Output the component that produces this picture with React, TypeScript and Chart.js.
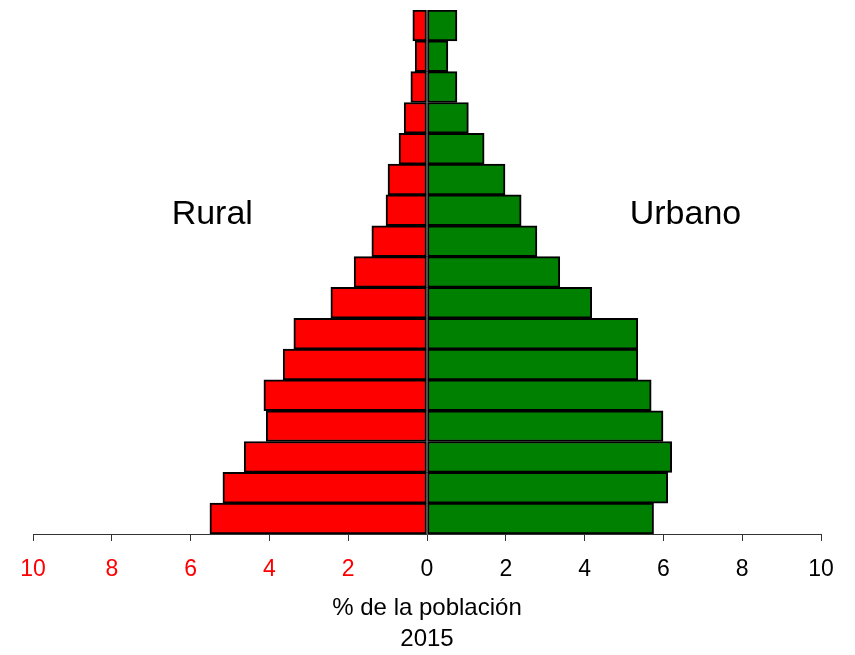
import React, { useEffect, useRef } from "react";
import { Chart, registerables } from "chart.js";

Chart.register(...registerables);

const ageGroups = [
  "80+", "75-79", "70-74", "65-69", "60-64", "55-59", "50-54", "45-49", "40-44",
  "35-39", "30-34", "25-29", "20-24", "15-19", "10-14", "5-9", "0-4",
];

const ruralValues = [
  0.36, 0.3, 0.41, 0.58, 0.71, 0.99, 1.04, 1.4, 1.85,
  2.44, 3.38, 3.65, 4.14, 4.08, 4.64, 5.18, 5.51,
];

const urbanValues = [
  0.76, 0.53, 0.76, 1.05, 1.45, 1.98, 2.39, 2.79, 3.37,
  4.18, 5.35, 5.35, 5.69, 5.99, 6.21, 6.11, 5.75,
];

const xTickValues = [-10, -8, -6, -4, -2, 0, 2, 4, 6, 8, 10];
const axisTitle = ["% de la población", "2015"];
const sideLabels = [
  { text: "Rural", x: -5.45, row: 6 },
  { text: "Urbano", x: 6.56, row: 6 },
];

const FONT = "'Liberation Sans', Arial, Helvetica, sans-serif";

const sideLabelPlugin = {
  id: "sideLabels",
  afterDatasetsDraw(chart: any) {
    const { ctx, scales } = chart;
    ctx.save();
    ctx.font = `34px ${FONT}`;
    ctx.fillStyle = "#000000";
    ctx.textAlign = "center";
    ctx.textBaseline = "middle";
    for (const l of sideLabels) {
      const x = scales.x.getPixelForValue(l.x);
      const y = scales.y.getPixelForValue(l.row) + 4;
      ctx.fillText(l.text, x, y);
    }
    ctx.restore();
  },
};

export default function App() {
  const canvasRef = useRef<HTMLCanvasElement | null>(null);

  useEffect(() => {
    if (!canvasRef.current) return;
    const chart = new Chart(canvasRef.current, {
      type: "bar",
      data: {
        labels: ageGroups,
        datasets: [
          {
            label: "Rural",
            data: ruralValues.map((v) => -v),
            backgroundColor: "#FF0000",
            borderColor: "#000000",
            borderWidth: 2,
            borderSkipped: false,
            categoryPercentage: 1,
            barPercentage: 1,
          },
          {
            label: "Urbano",
            data: urbanValues,
            backgroundColor: "#008000",
            borderColor: "#000000",
            borderWidth: 2,
            borderSkipped: false,
            categoryPercentage: 1,
            barPercentage: 1,
          },
        ],
      },
      options: {
        indexAxis: "y",
        responsive: false,
        animation: false,
        layout: { padding: { left: 33, right: 34, top: 10, bottom: 0 } },
        plugins: {
          legend: { display: false },
          tooltip: { enabled: false },
        },
        scales: {
          x: {
            type: "linear",
            stacked: true,
            min: -10,
            max: 10,
            afterBuildTicks: (scale: any) => {
              scale.ticks = xTickValues.map((v) => ({ value: v }));
            },
            afterFit: (scale: any) => {
              scale.height = 121;
            },
            ticks: {
              callback: (v: any) => String(Math.abs(Number(v))),
              color: (ctx: any) => (ctx.tick && ctx.tick.value < 0 ? "#FF0000" : "#000000"),
              font: { family: FONT, size: 23 },
              padding: 15,
              maxRotation: 0,
              autoSkip: false,
            },
            grid: {
              display: true,
              drawOnChartArea: false,
              drawTicks: true,
              tickLength: 7,
              color: "#333333",
              lineWidth: 1,
            },
            border: { display: true, color: "#333333", width: 1 },
            title: {
              display: true,
              text: axisTitle,
              color: "#000000",
              font: { family: FONT, size: 24, lineHeight: 1.3 },
              padding: { top: 0, bottom: 0 },
            },
          },
          y: {
            type: "category",
            stacked: true,
            display: false,
          },
        },
      },
      plugins: [sideLabelPlugin],
    } as any);
    return () => chart.destroy();
  }, []);

  return (
    <div style={{ position: "fixed", left: 0, top: 0, width: 855, height: 655, background: "#ffffff" }}>
      <canvas ref={canvasRef} width={855} height={655} style={{ display: "block" }} />
    </div>
  );
}
